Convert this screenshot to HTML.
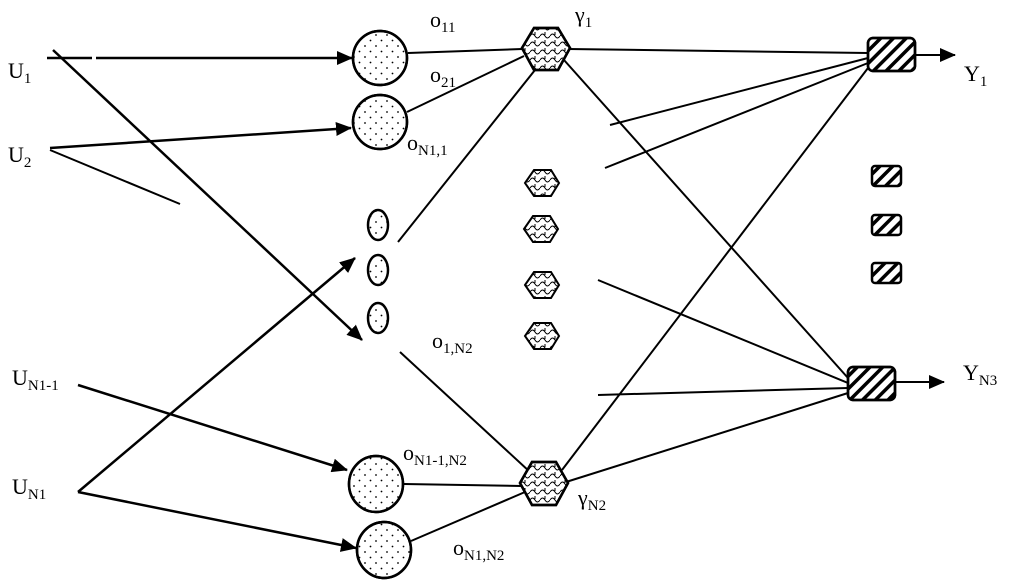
<!DOCTYPE html>
<html><head><meta charset="utf-8"><style>
html,body{margin:0;padding:0;background:#fff;}
svg{display:block}
text{font-family:"Liberation Serif",serif;fill:#000}
</style></head><body>
<svg width="1024" height="585" viewBox="0 0 1024 585" xmlns="http://www.w3.org/2000/svg">
<defs>
<marker id="b" markerWidth="16" markerHeight="14" refX="15" refY="7" orient="auto" markerUnits="userSpaceOnUse" viewBox="0 0 16 14">
<path d="M0,0 L16,7 L0,14 z" fill="#000"/></marker>
<pattern id="dots" width="11" height="11" patternUnits="userSpaceOnUse">
<circle cx="2" cy="2" r="0.9" fill="#000"/><circle cx="7.5" cy="7.5" r="0.9" fill="#000"/></pattern>
<pattern id="wav" width="10" height="8" patternUnits="userSpaceOnUse">
<path d="M0,4 q2.5,-4 5,0 t5,0" fill="none" stroke="#000" stroke-width="1"/><path d="M5,0 v3" stroke="#000" stroke-width="1"/></pattern>
<pattern id="hat" width="9" height="9" patternUnits="userSpaceOnUse" patternTransform="rotate(45)">
<rect width="3.5" height="9" fill="#000"/></pattern>
</defs>
<g stroke="#000" fill="none">
<g stroke-width="2.5">
<line x1="47" y1="58" x2="92" y2="58"/>
<line x1="96" y1="58" x2="352" y2="58" marker-end="url(#b)"/>
<line x1="53" y1="50" x2="362" y2="340" marker-end="url(#b)"/>
<line x1="50" y1="148" x2="351" y2="128" marker-end="url(#b)"/>
<line x1="78" y1="385" x2="347" y2="470" marker-end="url(#b)"/>
<line x1="78" y1="492" x2="356" y2="548" marker-end="url(#b)"/>
<line x1="78" y1="492" x2="355" y2="258" marker-end="url(#b)"/>
</g>
<line x1="50" y1="150" x2="180" y2="204" stroke-width="2"/>
<g stroke-width="2">
<line x1="408" y1="53" x2="522" y2="49"/>
<line x1="407" y1="112" x2="524" y2="56"/>
<line x1="398" y1="242" x2="535" y2="70"/>
<line x1="400" y1="352" x2="530" y2="472"/>
<line x1="404" y1="484" x2="522" y2="486"/>
<line x1="411" y1="541" x2="525" y2="492"/>
<line x1="568" y1="49" x2="868" y2="53"/>
<line x1="564" y1="60" x2="848" y2="378"/>
<line x1="562" y1="470" x2="868" y2="68"/>
<line x1="566" y1="482" x2="848" y2="393"/>
<line x1="610" y1="125" x2="868" y2="58"/>
<line x1="605" y1="168" x2="868" y2="63"/>
<line x1="598" y1="280" x2="848" y2="383"/>
<line x1="598" y1="395" x2="848" y2="388"/>
<line x1="915" y1="55" x2="955" y2="55" marker-end="url(#b)"/>
<line x1="895" y1="382" x2="944" y2="382" marker-end="url(#b)"/>
</g>
<g stroke-width="2.5" fill="url(#dots)">
<circle cx="380" cy="58" r="27" fill="#fff"/><circle cx="380" cy="58" r="27"/>
<circle cx="380" cy="122" r="27" fill="#fff"/><circle cx="380" cy="122" r="27"/>
<ellipse cx="378" cy="225" rx="10" ry="15"/>
<ellipse cx="378" cy="270" rx="10" ry="15"/>
<ellipse cx="378" cy="318" rx="10" ry="15"/>
<ellipse cx="376" cy="484" rx="27" ry="28" fill="#fff"/><ellipse cx="376" cy="484" rx="27" ry="28"/>
<ellipse cx="384" cy="550" rx="27" ry="28" fill="#fff"/><ellipse cx="384" cy="550" rx="27" ry="28"/>
</g>
<g stroke-width="2.5">
<path d="M522,48 L534,28 L558,28 L570,48 L558,70 L534,70 Z" fill="#fff"/>
<path d="M522,48 L534,28 L558,28 L570,48 L558,70 L534,70 Z" fill="url(#wav)"/>
<path d="M520,483 L532,462 L556,462 L568,483 L556,505 L532,505 Z" fill="#fff"/>
<path d="M520,483 L532,462 L556,462 L568,483 L556,505 L532,505 Z" fill="url(#wav)"/>
</g>
<g stroke-width="2" fill="url(#wav)">
<path d="M525,183 L534,170 L551,170 L559,183 L551,196 L534,196 Z"/>
<path d="M524,229 L533,216 L550,216 L558,229 L550,242 L533,242 Z"/>
<path d="M525,285 L534,272 L551,272 L559,285 L551,298 L534,298 Z"/>
<path d="M525,336 L534,323 L551,323 L559,336 L551,349 L534,349 Z"/>
</g>
<g stroke-width="2.5">
<rect x="868" y="38" width="47" height="33" rx="5" fill="#fff"/>
<rect x="868" y="38" width="47" height="33" rx="5" fill="url(#hat)"/>
<rect x="848" y="367" width="47" height="33" rx="5" fill="#fff"/>
<rect x="848" y="367" width="47" height="33" rx="5" fill="url(#hat)"/>
<rect x="872" y="166" width="29" height="20" rx="3" fill="url(#hat)"/>
<rect x="872" y="215" width="29" height="20" rx="3" fill="url(#hat)"/>
<rect x="872" y="263" width="29" height="20" rx="3" fill="url(#hat)"/>
</g>
</g>
<g font-size="22">
<text x="8" y="78">U<tspan font-size="15" dy="5">1</tspan></text>
<text x="8" y="162">U<tspan font-size="15" dy="5">2</tspan></text>
<text x="12" y="385">U<tspan font-size="15" dy="5">N1-1</tspan></text>
<text x="12" y="494">U<tspan font-size="15" dy="5">N1</tspan></text>
<text x="964" y="81">Y<tspan font-size="15" dy="5">1</tspan></text>
<text x="963" y="380">Y<tspan font-size="15" dy="5">N3</tspan></text>
<text x="575" y="22">γ<tspan font-size="15" dy="5">1</tspan></text>
<text x="578" y="505">γ<tspan font-size="15" dy="5">N2</tspan></text>
<text x="430" y="27">o<tspan font-size="15" dy="5">11</tspan></text>
<text x="430" y="82">o<tspan font-size="15" dy="5">21</tspan></text>
<text x="407" y="150">o<tspan font-size="15" dy="5">N1,1</tspan></text>
<text x="432" y="348">o<tspan font-size="15" dy="5">1,N2</tspan></text>
<text x="403" y="460">o<tspan font-size="15" dy="5">N1-1,N2</tspan></text>
<text x="453" y="555">o<tspan font-size="15" dy="5">N1,N2</tspan></text>
</g>
</svg>
</body></html>
